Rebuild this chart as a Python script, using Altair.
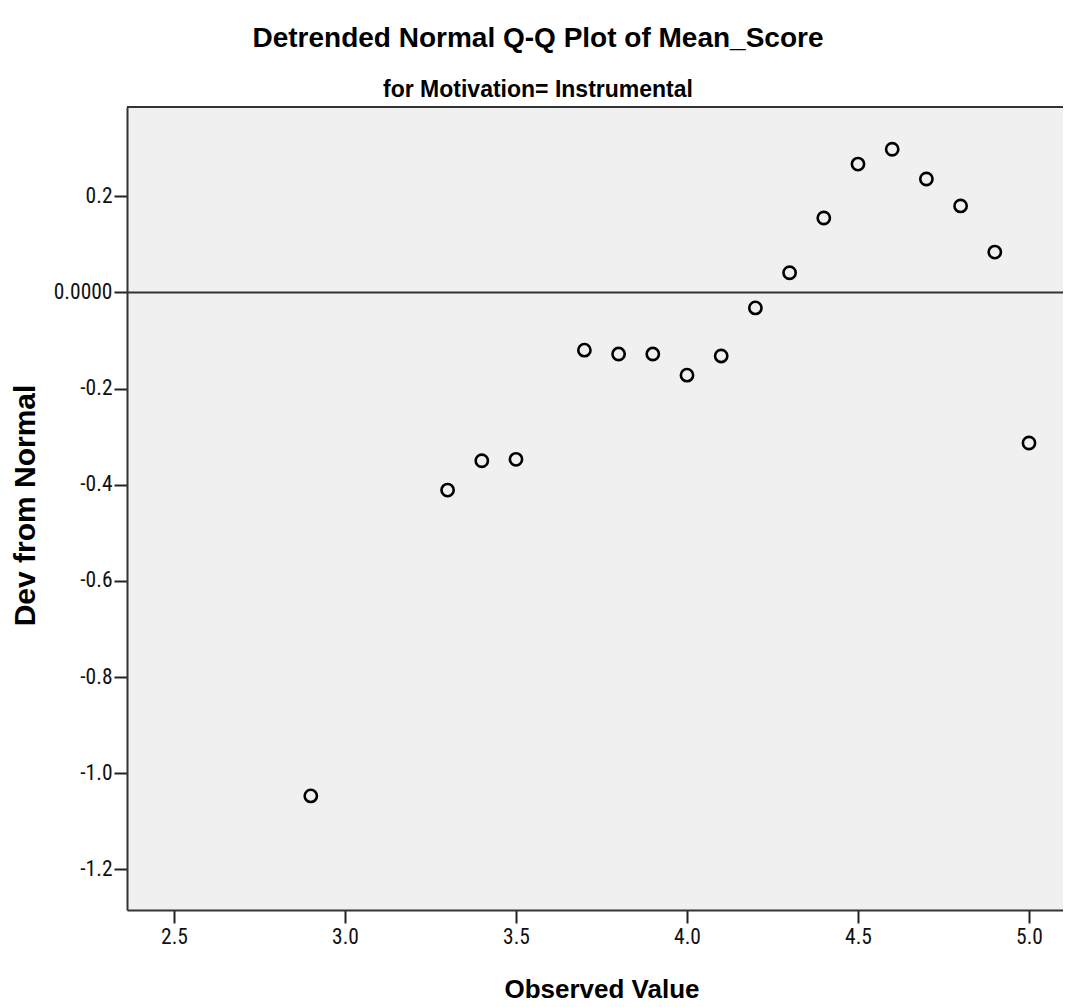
import altair as alt
import pandas as pd

# Data
observed = [2.9, 3.3, 3.4, 3.5, 3.7, 3.8, 3.9, 4.0, 4.1, 4.2, 4.3, 4.4, 4.5, 4.6, 4.7, 4.8, 4.9, 5.0]
deviation = [-1.047, -0.411, -0.350, -0.347, -0.120, -0.128, -0.128, -0.172, -0.132,
             -0.032, 0.041, 0.155, 0.267, 0.298, 0.236, 0.180, 0.084, -0.313]
x_ticks = [2.5, 3.0, 3.5, 4.0, 4.5, 5.0]
y_ticks = [-1.2, -1.0, -0.8, -0.6, -0.4, -0.2, 0.0, 0.2]
reference_line = [0.0]

W, H = 936, 803
x_domain = [2.3626, 5.0994]
y_domain = [-1.2843, 0.3858]

NARROW = "Liberation Sans Narrow, Roboto Condensed, DejaVu Sans Condensed, Liberation Sans, sans-serif"
SANS = "Liberation Sans, Arial, sans-serif"

df = pd.DataFrame({"observed": observed, "deviation": deviation})

x_scale = alt.Scale(domain=x_domain, nice=False, zero=False)
y_scale = alt.Scale(domain=y_domain, nice=False, zero=False)

x_axis = alt.Axis(
    values=x_ticks, format=".1f", grid=False,
    labelFont=NARROW, labelFontSize=21.5, labelColor="#111", labelPadding=3,
    labelFlush=False, labelOverlap=False,
    tickSize=13, tickWidth=2, tickColor="#222",
    domainColor="#333", domainWidth=2,
    title="Observed Value", titleFont=SANS, titleFontWeight="bold", titleFontSize=26,
    titleColor="#000", titleX=474.5, titleY=87, titleBaseline="alphabetic", titleAlign="center",
)

y_axis = alt.Axis(
    values=y_ticks, grid=False,
    labelExpr="abs(datum.value) < 1e-9 ? '0.0000' : replace(format(datum.value, '.1f'), '−', '-')",
    labelFont=NARROW, labelFontSize=21.5, labelColor="#111", labelPadding=2,
    labelFlush=False, labelOverlap=False,
    tickSize=13, tickWidth=2, tickColor="#222",
    domainColor="#333", domainWidth=2,
    title="Dev from Normal", titleFont=SANS, titleFontWeight="bold", titleFontSize=30,
    titleColor="#000", titleX=-93, titleY=398, titleBaseline="alphabetic",
    titleAngle=270, titleAlign="center",
)

zero_rule = alt.Chart(pd.DataFrame({"dev": reference_line})).mark_rule(
    color="#333", strokeWidth=2
).encode(y=alt.Y("dev:Q", scale=y_scale, axis=y_axis))

top_border = alt.Chart(pd.DataFrame({"edge": ["top"]})).mark_rule(
    color="#333", strokeWidth=2
).encode(x=alt.value(0), x2=alt.value(W), y=alt.value(0))

points = alt.Chart(df).mark_point(
    shape="circle", filled=False, color="#000", strokeWidth=2.6, size=150, opacity=1
).encode(
    x=alt.X("observed:Q", scale=x_scale, axis=x_axis),
    y=alt.Y("deviation:Q", scale=y_scale, axis=y_axis),
)

chart = alt.layer(zero_rule, top_border, points).properties(
    width=W,
    height=H,
    padding={"left": 119, "top": 99, "right": 0, "bottom": 95},
    autosize="none",
    background="white",
    title=alt.TitleParams(
        text="Detrended Normal Q-Q Plot of Mean_Score",
        subtitle="for Motivation= Instrumental",
        font=SANS, fontSize=28, fontWeight="bold", color="#000",
        subtitleFont=SANS, subtitleFontSize=23, subtitleFontWeight="bold", subtitleColor="#000",
        anchor="middle", dx=-57, offset=4, subtitlePadding=26,
    ),
).configure_view(fill="#f0f0f0", stroke=None)

chart.save("out.html", embed_options={"renderer": "svg", "actions": False})
